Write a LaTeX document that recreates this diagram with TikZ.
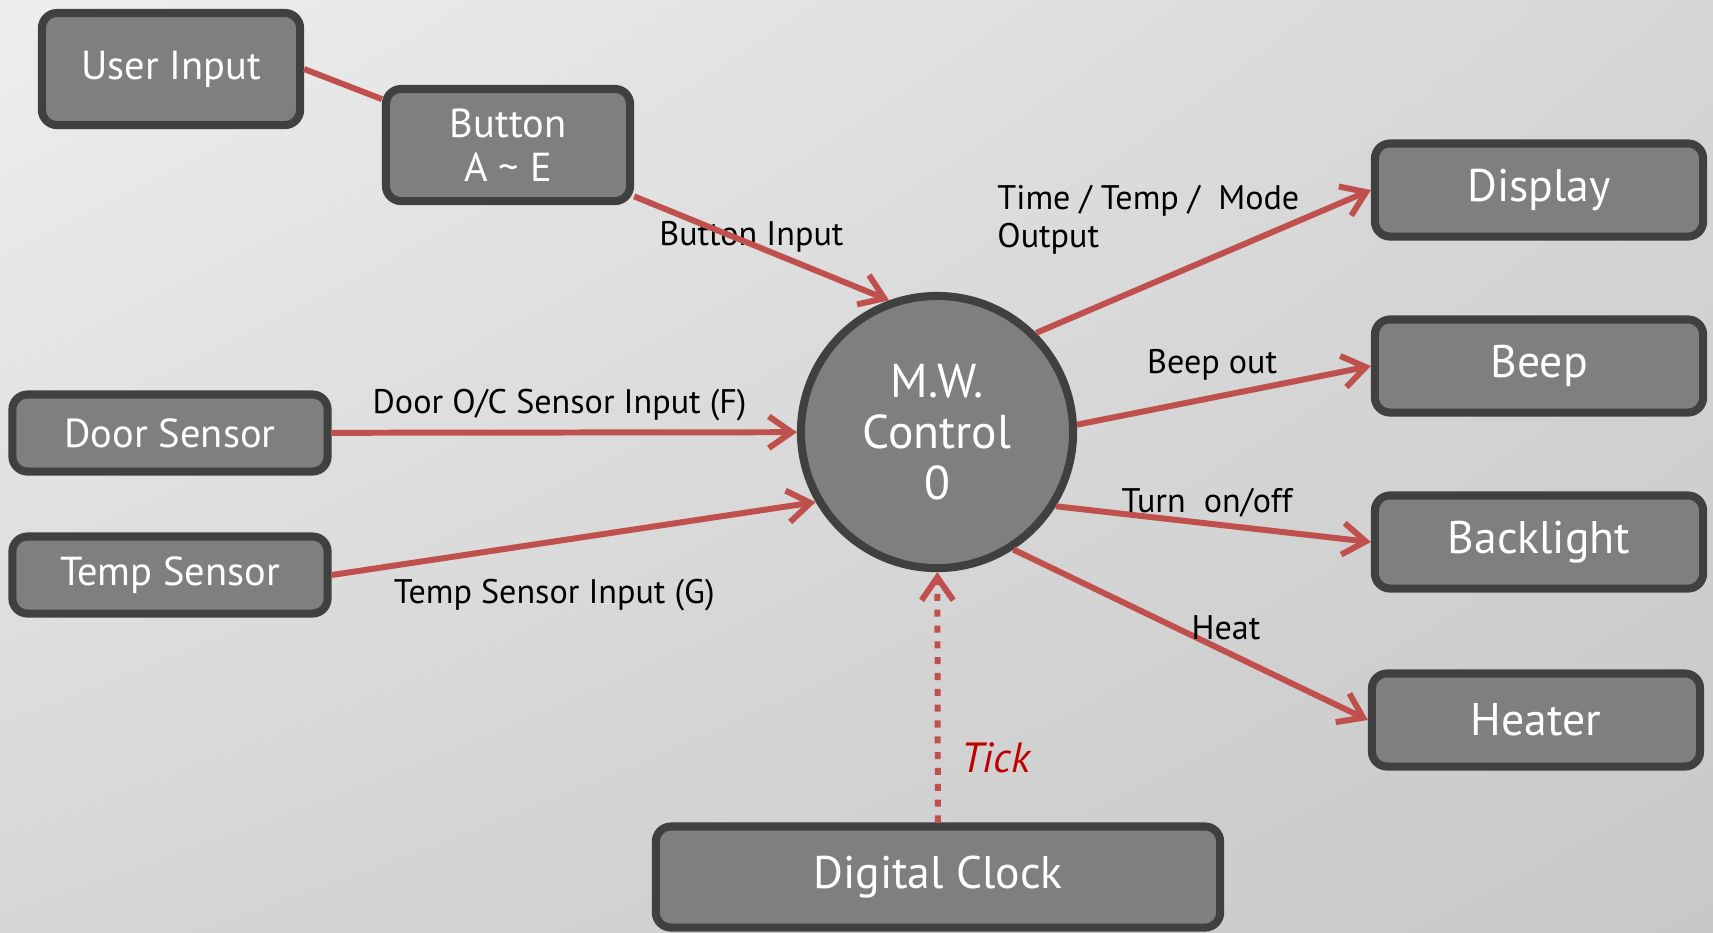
\documentclass[tikz,border=0pt]{standalone}
\usepackage{fontspec}
\setmainfont{PT Sans}
\usetikzlibrary{arrows.meta,positioning,shadings}

\definecolor{boxfill}{HTML}{7F7F7F}
\definecolor{boxline}{HTML}{404040}
\definecolor{flowred}{HTML}{C0504D}
\definecolor{tickred}{HTML}{C00000}
\definecolor{bgA}{HTML}{EEEEEE}
\definecolor{bgB}{HTML}{D6D6D6}
\definecolor{bgC}{HTML}{C8C8C8}

\begin{document}
\begin{tikzpicture}[x=0.01cm, y=-0.01cm, ->, >={Straight Barb[length=6.5pt,width=9pt]}, auto, line width=1.7pt]
        \tikzstyle{block}=[draw=boxline,fill=boxfill,line width=2.3pt,rounded corners=4.3pt,inner sep=0pt,text=white,align=center,font=\fontsize{13}{13}\selectfont]
        \tikzstyle{inblock}=[block,font=\fontsize{11.5}{12.5}\selectfont]
        \tikzstyle{control}=[circle,draw=boxline,fill=boxfill,line width=2.3pt,inner sep=0pt,minimum size=2.72cm,text=white,align=center,font=\fontsize{13.5}{14.5}\selectfont]
        \tikzstyle{flow}=[draw=flowred,line width=1.7pt]
        \tikzstyle{lbl}=[text=black,inner sep=2pt,font=\fontsize{9.7}{10.8}\selectfont]
        \tikzstyle{tick}=[text=tickred,inner sep=2pt,font=\fontsize{12}{12}\itshape]

        % background
        \useasboundingbox (0,0) rectangle (1713,932);
        \shade[upper left=bgA,upper right=bgB,lower left=bgB,lower right=bgC] (0,0) rectangle (1713,932);

        \node[inblock, minimum width=2.58cm, minimum height=1.12cm] (user)   at (171,69)   {User Input};
        \node[inblock, minimum width=2.44cm, minimum height=1.12cm] (button) at (508,145)  {Button\\A \textasciitilde\ E};
        \node[inblock, minimum width=3.15cm, minimum height=0.77cm] (door)   at (170,433)  {Door Sensor};
        \node[inblock, minimum width=3.15cm, minimum height=0.77cm] (temp)   at (170,575)  {Temp Sensor};
        \node[control]                                              (ctrl)   at (937,432)  {M.W.\\Control\\0};
        \node[block, minimum width=3.28cm, minimum height=0.93cm] (display)   at (1539,190) {Display};
        \node[block, minimum width=3.28cm, minimum height=0.93cm] (beep)      at (1539,366) {Beep};
        \node[block, minimum width=3.28cm, minimum height=0.93cm] (backlight) at (1539,542) {Backlight};
        \node[block, minimum width=3.28cm, minimum height=0.93cm] (heater)    at (1536,720) {Heater};
        \node[block, minimum width=5.64cm, minimum height=1.01cm] (clock)     at (938,877)  {Digital Clock};

        \path
            (user.east) edge[flow, -]  (button.160)
            (button)    edge[flow]     node[lbl, behind path, pos=0.46, anchor=center, yshift=2pt]{Button Input} (ctrl.110)
            (door)      edge[flow]     node[lbl, pos=0.49, above=0.5pt]{Door O/C Sensor Input (F)} (ctrl)
            (temp.east) edge[flow]     node[lbl, pos=0.46, below=8pt]{Temp Sensor Input (G)} (ctrl.210)
            (ctrl.45)   edge[flow]     node[lbl, pos=0.33, above=6pt, xshift=0.5pt, align=left]{Time / Temp /\ \ Mode\\Output} (display.west)
            (ctrl.3)    edge[flow]     node[lbl, pos=0.46, above=2pt]{Beep out} (beep.west)
            (ctrl.-32)  edge[flow]     node[lbl, pos=0.48, above=-1pt]{Turn\ \ on/off} (backlight.west)
            (ctrl.-57)  edge[flow]     node[lbl, pos=0.60, above=0.5pt]{Heat} (heater.west)
            (clock)     edge[flow, dash pattern=on 2pt off 2.5pt] node[tick, pos=0.26, right=4pt]{Tick} (ctrl)
        ;
    \end{tikzpicture}
\end{document}
